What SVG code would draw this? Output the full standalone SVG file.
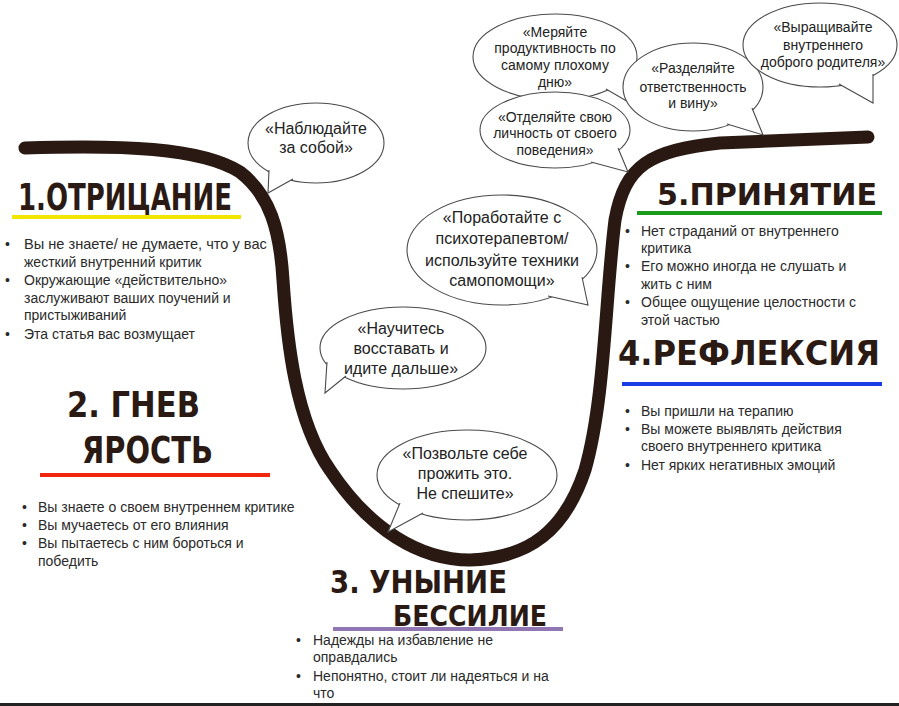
<svg xmlns="http://www.w3.org/2000/svg" width="899" height="706" viewBox="0 0 899 706">
<style>
  .bul { font-family: "Liberation Sans", Arial, sans-serif; font-size: 14px; fill: #2a2a2a; }
  .bt { font-family: "Liberation Sans", Arial, sans-serif; fill: #222; text-anchor: middle; }
  .b16 { font-size: 16px; }
  .b14 { font-size: 14px; }
  .bub { fill: #fff; stroke: #4a4a4a; stroke-width: 1.1; }
  .head { font-family: "DejaVu Sans", "Liberation Sans", sans-serif; font-weight: bold; fill: #2b1a14; }
  .curve { fill: none; stroke: #2a1913; stroke-width: 13; stroke-linecap: round; stroke-linejoin: round; }
</style>
<rect x="0" y="0" width="899" height="706" fill="#ffffff"/>
<rect x="0" y="703" width="899" height="3" fill="#222"/>

<!-- bullet texts -->
<g id="stage1-text" class="bul">
  <text x="5" y="249">•</text><text x="24" y="249" font-size="14.6">Вы не знаете/ не думаете, что у вас</text>
  <text x="24" y="267">жесткий внутренний критик</text>
  <text x="5" y="285">•</text><text x="24" y="285">Окружающие «действительно»</text>
  <text x="24" y="303">заслуживают ваших поучений и</text>
  <text x="24" y="320">пристыживаний</text>
  <text x="5" y="339">•</text><text x="24" y="339">Эта статья вас возмущает</text>
</g>
<g id="stage2-text" class="bul">
  <text x="22" y="512">•</text><text x="38" y="512">Вы знаете о своем внутреннем критике</text>
  <text x="22" y="530">•</text><text x="38" y="530">Вы мучаетесь от его влияния</text>
  <text x="22" y="548">•</text><text x="38" y="548">Вы пытаетесь с ним бороться и</text>
  <text x="38" y="566">победить</text>
</g>
<g id="stage3-text" class="bul">
  <text x="296" y="645">•</text><text x="313" y="645">Надежды на избавление не</text>
  <text x="313" y="662">оправдались</text>
  <text x="296" y="681">•</text><text x="313" y="681">Непонятно, стоит ли надеяться и на</text>
  <text x="313" y="698">что</text>
</g>
<g id="stage5-text" class="bul">
  <text x="625" y="236">•</text><text x="641" y="236">Нет страданий от внутреннего</text>
  <text x="641" y="253">критика</text>
  <text x="625" y="271">•</text><text x="641" y="271">Его можно иногда не слушать и</text>
  <text x="641" y="289">жить с ним</text>
  <text x="625" y="307">•</text><text x="641" y="307">Общее ощущение целостности с</text>
  <text x="641" y="325">этой частью</text>
</g>
<g id="stage4-text" class="bul">
  <text x="625" y="416">•</text><text x="641" y="416">Вы пришли на терапию</text>
  <text x="625" y="434">•</text><text x="641" y="434">Вы можете выявлять действия</text>
  <text x="641" y="451">своего внутреннего критика</text>
  <text x="625" y="470">•</text><text x="641" y="470">Нет ярких негативных эмоций</text>
</g>

<!-- curve -->
<g id="connectors">
  <path class="curve" d="M 25,148 C 120,145 200,147 240,172 C 270,195 280,230 283,280 C 287,340 295,420 330,470 C 370,530 420,560 470,560 C 530,558 565,530 585,470 C 605,400 605,300 615,220 C 625,165 650,150 720,143 L 868,137"/>
</g>

<!-- headings -->
<g id="stage1">
  <text class="head" x="18" y="210" font-size="38" textLength="214" lengthAdjust="spacingAndGlyphs">1.ОТРИЦАНИЕ</text>
  <rect x="12" y="215" width="229" height="4" fill="#f2e600"/>
</g>
<g id="stage2">
  <text class="head" x="67" y="417" font-size="36" textLength="133" lengthAdjust="spacingAndGlyphs">2. ГНЕВ</text>
  <text class="head" x="82" y="463" font-size="37" textLength="131" lengthAdjust="spacingAndGlyphs">ЯРОСТЬ</text>
  <rect x="40" y="473" width="230" height="4" fill="#f0260f"/>
</g>
<g id="stage3">
  <text class="head" x="330" y="593" font-size="32" textLength="177" lengthAdjust="spacingAndGlyphs">3. УНЫНИЕ</text>
  <text class="head" x="393" y="626" font-size="29" textLength="154" lengthAdjust="spacingAndGlyphs">БЕССИЛИЕ</text>
  <rect x="333" y="627" width="230" height="4" fill="#9077b4"/>
</g>
<g id="stage4">
  <text class="head" x="618" y="365" font-size="34" textLength="262" lengthAdjust="spacingAndGlyphs">4.РЕФЛЕКСИЯ</text>
  <rect x="622" y="382" width="260" height="4" fill="#1a3ee6"/>
</g>
<g id="stage5">
  <text class="head" x="657" y="205" font-size="30" textLength="220" lengthAdjust="spacingAndGlyphs">5.ПРИНЯТИЕ</text>
  <rect x="637" y="211" width="245" height="4" fill="#1c9a1c"/>
</g>

<!-- speech bubbles -->
<g id="bubble-observe">
  <ellipse class="bub" cx="316" cy="143" rx="68" ry="40"/>
  <polyline class="bub" points="269,170 268,193 293,179"/>
  <text class="bt b16" x="316" y="134">«Наблюдайте</text>
  <text class="bt b16" x="316" y="153">за собой»</text>
</g>
<g id="bubble-therapist">
  <ellipse class="bub" cx="502" cy="250" rx="95" ry="55"/>
  <polyline class="bub" points="582,277 588,305 548,296"/>
  <text class="bt b16" x="502" y="223">«Поработайте с</text>
  <text class="bt b16" x="502" y="244">психотерапевтом/</text>
  <text class="bt b16" x="502" y="266">используйте техники</text>
  <text class="bt b16" x="502" y="286">самопомощи»</text>
</g>
<g id="bubble-rise">
  <ellipse class="bub" cx="403" cy="348" rx="83" ry="41"/>
  <polyline class="bub" points="327,362 325,393 346,376"/>
  <text class="bt b16" x="401" y="334">«Научитесь</text>
  <text class="bt b16" x="401" y="354">восставать и</text>
  <text class="bt b16" x="401" y="374">идите дальше»</text>
</g>
<g id="bubble-allow">
  <ellipse class="bub" cx="467" cy="475" rx="90" ry="45"/>
  <polyline class="bub" points="400,503 388,532 423,513"/>
  <text class="bt b16" x="465" y="459">«Позвольте себе</text>
  <text class="bt b16" x="465" y="479">прожить это.</text>
  <text class="bt b16" x="465" y="499">Не спешите»</text>
</g>
<g id="bubble-measure">
  <ellipse class="bub" cx="555" cy="57" rx="82" ry="43"/>
  <polyline class="bub" points="627,75 630,103 606,89"/>
  <text class="bt b14" x="555" y="37">«Меряйте</text>
  <text class="bt b14" x="555" y="53">продуктивность по</text>
  <text class="bt b14" x="555" y="70">самому плохому</text>
  <text class="bt b14" x="555" y="87">дню»</text>
</g>
<g id="bubble-separate">
  <ellipse class="bub" cx="555" cy="130" rx="75" ry="38"/>
  <polyline class="bub" points="618,148 628,172 591,162"/>
  <text class="bt b14" x="555" y="122">«Отделяйте свою</text>
  <text class="bt b14" x="555" y="138">личность от своего</text>
  <text class="bt b14" x="555" y="155">поведения»</text>
</g>
<g id="bubble-share">
  <ellipse class="bub" cx="693" cy="87" rx="70" ry="44"/>
  <polyline class="bub" points="752,108 763,135 727,124"/>
  <text class="bt b14" x="693" y="73">«Разделяйте</text>
  <text class="bt b14" x="693" y="92">ответственность</text>
  <text class="bt b14" x="693" y="108">и вину»</text>
</g>
<g id="bubble-parent">
  <ellipse class="bub" cx="820" cy="45" rx="77" ry="42"/>
  <polyline class="bub" points="873,74 873,103 839,84"/>
  <text class="bt b14" x="823" y="32">«Выращивайте</text>
  <text class="bt b14" x="823" y="50">внутреннего</text>
  <text class="bt b14" x="823" y="67">доброго родителя»</text>
</g>
</svg>
